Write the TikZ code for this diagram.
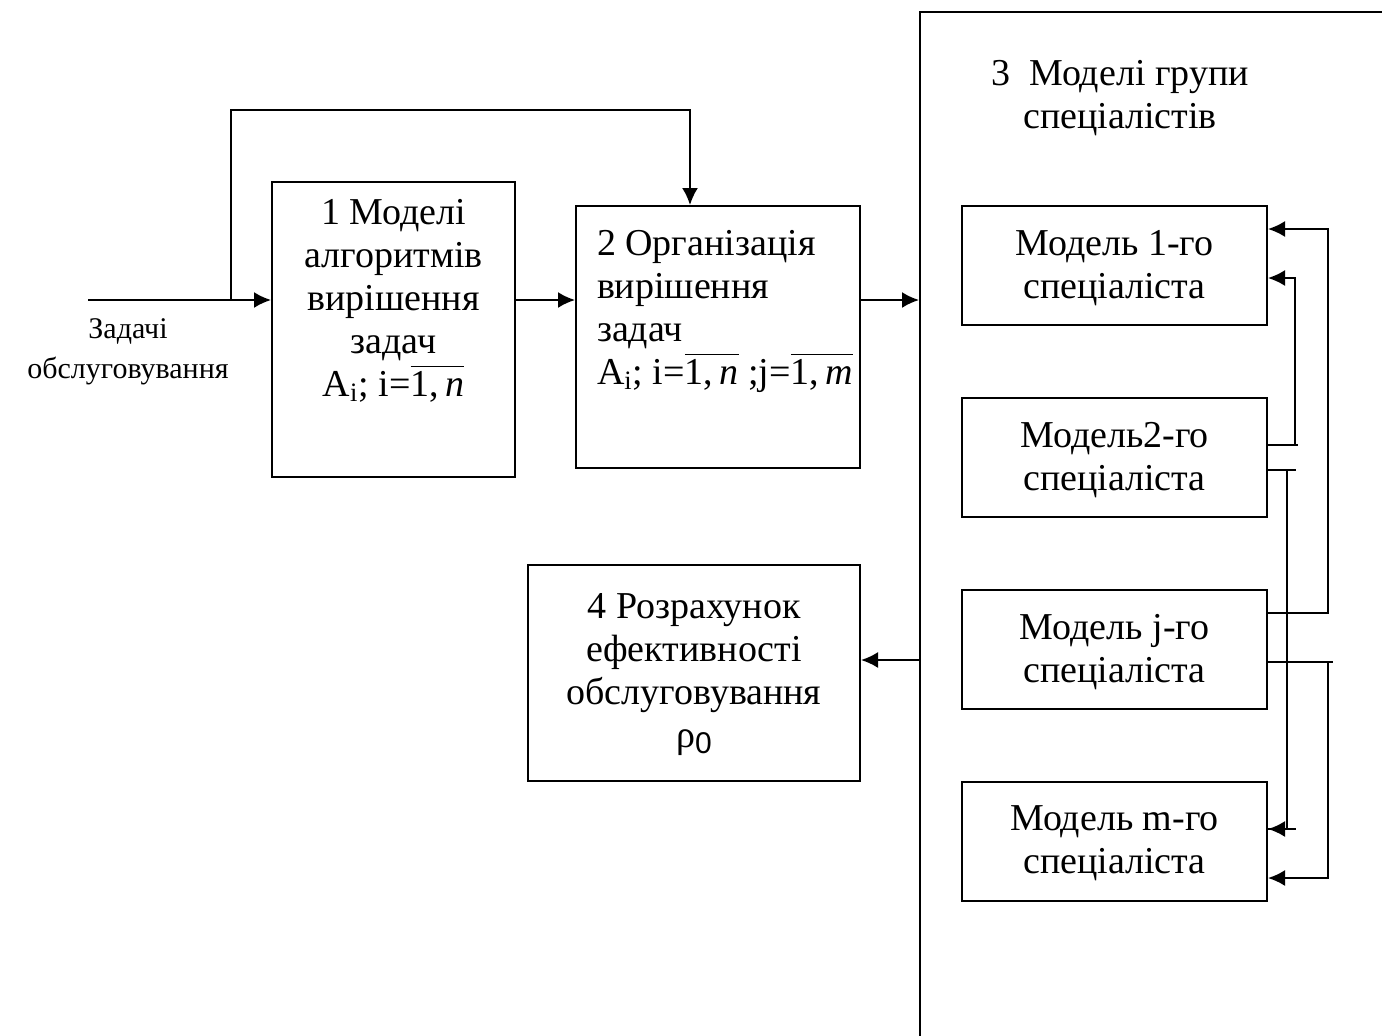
\documentclass[tikz,border=0pt]{standalone}
\usepackage{fontspec}
\setmainfont{Liberation Serif}
\newfontfamily\sansf{Liberation Sans}
\usetikzlibrary{arrows.meta,positioning}

\newcommand{\rng}[1]{$\overline{\mbox{#1}\vphantom{I\raisebox{1pt}{I}}}$}

\begin{document}
\begin{tikzpicture}[x=0.5pt, y=-0.5pt, line width=1pt,
  every node/.style={font=\fontsize{19}{21.5}\selectfont},
  blk/.style={draw, inner sep=0pt},
  txt/.style={inner sep=0pt, align=center},
  spec/.style={blk, minimum width=152.5pt, minimum height=59.5pt},
  arr/.style={-{Latex[length=8.5pt,width=8pt]}}]

  \useasboundingbox (0,0) rectangle (1382,1035);
  \clip (0,0) rectangle (1382,1035);

  %%%%%%%%%%%%%%%%%%%%%%%%%%%%%%
  % Left part: tasks and models %
  %%%%%%%%%%%%%%%%%%%%%%%%%%%%%%
  \node[blk, minimum width=121.5pt, minimum height=147.5pt] (alg) at (393.5,329.5) {};
  \node[txt, below=8.5pt of alg.north] (algtxt)
        {1 Моделі\\алгоритмів\\вирішення\\задач\\A\textsubscript{i}; i=\rng{1,\,\textit{n}}};

  \node[blk, minimum width=142pt, minimum height=131pt] (org) at (718,337) {};
  \node[txt, align=left, anchor=north west] (orgtxt) at ([xshift=10.5pt,yshift=-12pt]org.north west)
        {2 Організація\\вирішення\\задач\\A\textsubscript{i}; i=\rng{1,\,\textit{n}} ;j=\rng{1,\,\textit{m}}};

  \node[blk, minimum width=166pt, minimum height=108pt] (calc) at (694,673) {};
  \node[txt, below=14pt of calc.north] (calctxt)
        {4 Розрахунок\\ефективності\\обслуговування\\ρ\raisebox{-0.35ex}{\sansf\fontsize{15}{15}\selectfont 0}};

  % Input label
  \node[txt, font=\fontsize{15}{20}\selectfont] (intxt) at (128,352) {Задачі\\обслуговування};

  %%%%%%%%%%%%%%%%%%%%%%%%%%%%%%
  % Group of specialists       %
  %%%%%%%%%%%%%%%%%%%%%%%%%%%%%%
  \node[blk, minimum width=240pt, minimum height=519pt] (grp) at (1160,531) {};
  \node[txt] (grptxt) at (1120,98) {3\ \ Моделі групи\\спеціалістів};

  \node[spec] (s1) at (1114.5,265.5) {};
  \node[spec] (s2) at (1114.5,457.5) {};
  \node[spec] (sj) at (1114.5,649.5) {};
  \node[spec] (sm) at (1114.5,841.5) {};
  \node[txt, below=12pt of s1.north] {Модель 1-го\\спеціаліста};
  \node[txt, below=12pt of s2.north] {Модель2-го\\спеціаліста};
  \node[txt, below=12pt of sj.north] {Модель j-го\\спеціаліста};
  \node[txt, below=12pt of sm.north] {Модель m-го\\спеціаліста};

  %%%%%%%%%%%%%%%%%%%%%%%%%%%%%%
  % Main flow                  %
  %%%%%%%%%%%%%%%%%%%%%%%%%%%%%%
  \coordinate (in) at (88,300);
  \coordinate (br) at (231,300);
  \coordinate (top) at (690,110);
  \draw[arr] (in) -- (in -| alg.west);
  \draw[arr] (br) |- (top) -- (top |- org.north);
  \draw[arr] (in -| alg.east) -- (in -| org.west);
  \draw[arr] (in -| org.east) -- (in -| grp.west);
  \coordinate (res) at ([yshift=6.5pt]calc.east);
  \draw[arr] (res -| grp.west) -- (res);

  %%%%%%%%%%%%%%%%%%%%%%%%%%%%%%
  % Links between specialists  %
  %%%%%%%%%%%%%%%%%%%%%%%%%%%%%%
  \coordinate (s1a) at ([yshift=18.25pt]s1.east);
  \coordinate (s1b) at ([yshift=-6.25pt]s1.east);
  \coordinate (s2a) at ([yshift=6.25pt]s2.east);
  \coordinate (s2b) at ([yshift=-6.25pt]s2.east);
  \coordinate (sja) at ([yshift=18.25pt]sj.east);
  \coordinate (sjb) at ([yshift=-6.25pt]sj.east);
  \coordinate (sma) at ([yshift=6.25pt]sm.east);
  \coordinate (smb) at ([yshift=-18.25pt]sm.east);

  \draw[arr] (s2a) -- ++(30,0) ++(-3,0) |- (s1b);
  \draw (sma) -- ++(28,0);
  \draw[arr] (s2b) -- ++(28,0) ++(-9,0) |- (sma);
  \draw[arr] (sja) -- ++(60,0) |- (s1a);
  \draw[arr] (sjb) -- ++(65,0) ++(-5,0) |- (smb);

\end{tikzpicture}
\end{document}
